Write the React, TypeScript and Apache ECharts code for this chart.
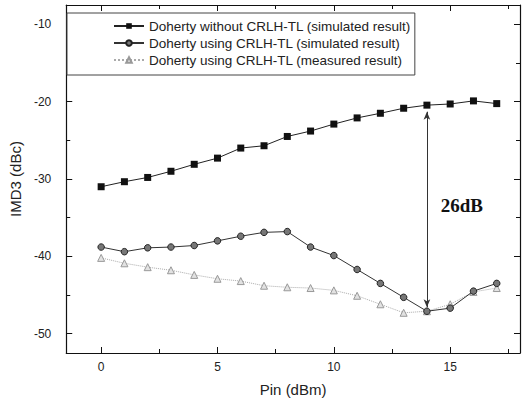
import React, { useEffect, useRef } from "react";
import * as echarts from "echarts";

const pinValues = [0, 1, 2, 3, 4, 5, 6, 7, 8, 9, 10, 11, 12, 13, 14, 15, 16, 17];
const withoutCrlhSim = [-31.0, -30.35, -29.8, -29.0, -28.1, -27.3, -26.0, -25.7, -24.5, -23.8, -22.9, -22.1, -21.5, -20.85, -20.45, -20.3, -19.9, -20.25];
const usingCrlhSim = [-38.8, -39.4, -38.9, -38.8, -38.6, -38.0, -37.4, -36.9, -36.8, -38.8, -39.9, -41.7, -43.5, -45.3, -47.1, -46.7, -44.5, -43.5];
const usingCrlhMeas = [-40.2, -40.9, -41.4, -41.8, -42.4, -42.9, -43.2, -43.8, -44.0, -44.1, -44.4, -45.1, -46.2, -47.3, -47.1, -46.2, -44.6, -44.1];
const seriesNames = [
  "Doherty without CRLH-TL (simulated result)",
  "Doherty using CRLH-TL (simulated result)",
  "Doherty using CRLH-TL (measured result)",
];
const xMajorTicks = [0, 5, 10, 15];
const xMinorTicks = [2.5, 7.5, 12.5, 17.5];
const yMajorTicks = [-50, -40, -30, -20, -10];
const yMinorTicks = [-45, -35, -25, -15];
const arrowX = 14;
const arrowTop = -21.3;
const arrowBottom = -46.6;
const annotationText = "26dB";
const annotationPos = [15.5, -33.4];

const FONT = "Liberation Sans, Arial, sans-serif";

function pairs(ys: number[]) {
  return pinValues.map((x, i) => [x, ys[i]]);
}

function xAxisDef(position: string, ticks: number[], len: number, showLabel: boolean, showLine: boolean, name?: string) {
  return {
    type: "value",
    position,
    min: -1.5,
    max: 18,
    name: name || "",
    nameLocation: "middle",
    nameGap: 29,
    nameTextStyle: { fontFamily: FONT, fontSize: 15, color: "#222" },
    axisLine: { show: showLine, onZero: false, lineStyle: { color: "#111", width: 1.2 } },
    axisTick: { show: true, inside: true, length: len, customValues: ticks, lineStyle: { color: "#111", width: 1 } },
    axisLabel: { show: showLabel, customValues: ticks, margin: 8, fontFamily: FONT, fontSize: 12, color: "#222" },
    splitLine: { show: false },
  };
}

function yAxisDef(position: string, ticks: number[], len: number, showLabel: boolean, showLine: boolean, name?: string) {
  return {
    type: "value",
    position,
    min: -52.5,
    max: -7.5,
    name: name || "",
    nameLocation: "middle",
    nameGap: 42,
    nameTextStyle: { fontFamily: FONT, fontSize: 15, color: "#222" },
    axisLine: { show: showLine, onZero: false, lineStyle: { color: "#111", width: 1.2 } },
    axisTick: { show: true, inside: true, length: len, customValues: ticks, lineStyle: { color: "#111", width: 1 } },
    axisLabel: { show: showLabel, customValues: ticks, margin: 15, fontFamily: FONT, fontSize: 12, color: "#222" },
    splitLine: { show: false },
  };
}

export default function App() {
  const ref = useRef<HTMLDivElement>(null);
  useEffect(() => {
    if (!ref.current) return;
    const chart = echarts.init(ref.current, null, { renderer: "svg" });
    chart.setOption({
      animation: false,
      backgroundColor: "#fff",
      grid: { left: 60, right: 5, top: 5, bottom: 49, containLabel: false },
      legend: {
        orient: "vertical",
        left: 67,
        top: 13,
        padding: [6, 4, 8, 46],
        itemGap: 3,
        itemWidth: 30,
        itemHeight: 7,
        borderColor: "#444",
        borderWidth: 1,
        backgroundColor: "#fff",
        textStyle: { fontFamily: FONT, fontSize: 13.5, color: "#222" },
        data: seriesNames,
      },
      xAxis: [
        xAxisDef("bottom", xMajorTicks, 6, true, true, "Pin (dBm)"),
        xAxisDef("bottom", xMinorTicks, 4, false, false),
        xAxisDef("top", xMajorTicks, 6, false, true),
        xAxisDef("top", xMinorTicks, 4, false, false),
      ],
      yAxis: [
        yAxisDef("left", yMajorTicks, 6, true, true, "IMD3 (dBc)"),
        yAxisDef("left", yMinorTicks, 4, false, false),
        yAxisDef("right", yMajorTicks, 6, false, true),
        yAxisDef("right", yMinorTicks, 4, false, false),
      ],
      series: [
        {
          name: seriesNames[0],
          type: "line",
          xAxisIndex: 0,
          yAxisIndex: 0,
          data: pairs(withoutCrlhSim),
          symbol: "rect",
          symbolSize: 7,
          itemStyle: { color: "#111" },
          lineStyle: { color: "#222", width: 1 },
          markLine: {
            silent: true,
            symbol: ["arrow", "arrow"],
            symbolSize: [5, 8],
            label: { show: false },
            lineStyle: { color: "#333", width: 1, type: "solid" },
            data: [[{ coord: [arrowX, arrowTop] }, { coord: [arrowX, arrowBottom] }]],
          },
          markPoint: {
            silent: true,
            symbol: "circle",
            symbolSize: 1,
            itemStyle: { color: "rgba(0,0,0,0)" },
            label: {
              show: true,
              position: "inside",
              formatter: annotationText,
              fontFamily: "Liberation Serif, Times New Roman, serif",
              fontWeight: "bold",
              fontSize: 19,
              color: "#111",
            },
            data: [{ coord: annotationPos }],
          },
          z: 3,
        },
        {
          name: seriesNames[1],
          type: "line",
          xAxisIndex: 0,
          yAxisIndex: 0,
          data: pairs(usingCrlhSim),
          symbol: "circle",
          symbolSize: 6.5,
          itemStyle: { color: "#777", borderColor: "#222", borderWidth: 1 },
          lineStyle: { color: "#333", width: 1 },
          z: 2,
        },
        {
          name: seriesNames[2],
          type: "line",
          xAxisIndex: 0,
          yAxisIndex: 0,
          data: pairs(usingCrlhMeas),
          symbol: "triangle",
          symbolSize: 7,
          itemStyle: { color: "#e2e2e2", borderColor: "#999", borderWidth: 1 },
          lineStyle: { color: "#aaa", width: 1, type: "dotted" },
          z: 1,
        },
      ],
    });
    return () => chart.dispose();
  }, []);
  return (
    <div
      ref={ref}
      style={{ position: "fixed", left: 0, top: 0, width: 525, height: 402, background: "#fff" }}
    />
  );
}
